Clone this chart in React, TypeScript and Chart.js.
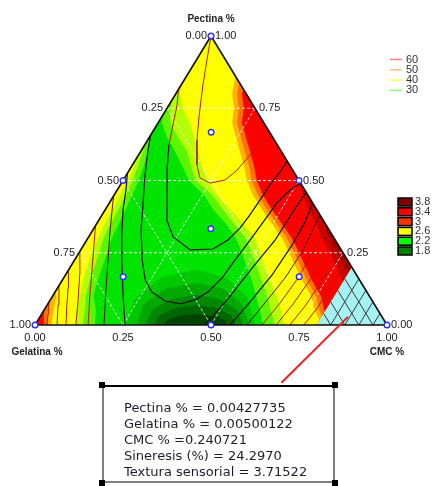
import React, { useEffect, useRef } from 'react';
import { Chart, registerables } from 'chart.js';
Chart.register(...registerables);

// ---------- data (ternary points are [Pectina, CMC]; Gelatina = 1 - P - C) ----------
const tickValues = [0, 0.25, 0.5, 0.75, 1];
const tickLabels = ['0.00', '0.25', '0.50', '0.75', '1.00'];
const axisTitles = ['Pectina %', 'Gelatina %', 'CMC %'];

const sineresisLegend = ['60', '50', '40', '30'];
const texturaLegend = ['3.8', '3.4', '3', '2.6', '2.2', '1.8'];

const readout = [
  'Pectina % = 0.00427735',
  'Gelatina % = 0.00500122',
  'CMC % =0.240721',
  'Sineresis (%) = 24.2970',
  'Textura sensorial = 3.71522',
];

const designPoints = [
  [1, 0], [0, 0], [0, 1], [0, 0.5], [0.5, 0], [0.5, 0.5],
  [0.667, 0.167], [0.167, 0.167], [0.167, 0.667], [0.333, 0.333],
];

const simplex = [[1, 0], [0, 0], [0, 1]];
const outOfRange = [[0, 0.8], [0, 1], [0.2, 0.8]];
const hatchC = [0.84, 0.88, 0.92, 0.96];
const hatchG = [0.04, 0.08, 0.12, 0.16];
const pointerLine = [[0.028, 0.875], [-0.2, 0.8]];

// Textura sensorial – filled bands (low side, around the minimum)
const texBelow20 = [[0, 0.259], [0.095, 0.238], [0.165, 0.276], [0.19, 0.362], [0.165, 0.459], [0.095, 0.555], [0, 0.625]];
const texBelow19 = [[0, 0.287], [0.073, 0.273], [0.126, 0.309], [0.145, 0.385], [0.126, 0.47], [0.073, 0.551], [0, 0.608]];
const texBelow18 = [[0, 0.313], [0.052, 0.306], [0.09, 0.34], [0.104, 0.405], [0.09, 0.479], [0.052, 0.547], [0, 0.591]];
const texBelow17 = [[0, 0.338], [0.035, 0.337], [0.06, 0.368], [0.069, 0.423], [0.06, 0.484], [0.035, 0.538], [0, 0.571]];
const texBelow16 = [[0, 0.364], [0.019, 0.367], [0.033, 0.394], [0.038, 0.438], [0.033, 0.486], [0.019, 0.527], [0, 0.548]];

// Textura sensorial – high side along the Gelatina edge
const texLeft24 = [[0, 0], [0, 0.17], [0.05, 0.148], [0.1, 0.116], [0.15, 0.102], [0.2, 0.091], [0.25, 0.08], [0.3, 0.068], [0.35, 0.063], [0.4, 0.057], [0.45, 0.051], [0.5, 0.045], [0.55, 0.034], [0.6, 0.02], [0.63, 0.01], [0.66, 0]];
const texLeft25 = [[0, 0], [0, 0.136], [0.05, 0.116], [0.1, 0.094], [0.15, 0.08], [0.2, 0.068], [0.25, 0.057], [0.3, 0.045], [0.35, 0.04], [0.4, 0.037], [0.45, 0.034], [0.5, 0.028], [0.55, 0.017], [0.6, 0.006], [0.62, 0]];
const texLeft26 = [[0, 0], [0, 0.114], [0.05, 0.094], [0.1, 0.077], [0.15, 0.06], [0.2, 0.048], [0.25, 0.037], [0.3, 0.028], [0.35, 0.023], [0.4, 0.02], [0.45, 0.017], [0.5, 0.014], [0.55, 0.007], [0.58, 0]];
const texLeft30 = [[0, 0], [0, 0.046], [0.05, 0.028], [0.1, 0.011], [0.12, 0]];
const texLeft32 = [[0, 0], [0, 0.036], [0.04, 0.016], [0.08, 0]];
const texLeft34 = [[0, 0], [0, 0.025], [0.03, 0.01], [0.05, 0]];

// Textura sensorial – high side (upper and CMC/Pectina edge)
const texRight24 = [[0.72, 0], [0.7, 0.011], [0.65, 0.05], [0.6, 0.098], [0.55, 0.143], [0.5, 0.188], [0.45, 0.255], [0.4, 0.306], [0.35, 0.368], [0.3, 0.421], [0.25, 0.463], [0.2, 0.502], [0.15, 0.542], [0.1, 0.578], [0.05, 0.614], [0, 0.648], [0, 1], [1, 0]];
const texRight25 = [[0.78, 0], [0.75, 0.009], [0.7, 0.034], [0.65, 0.081], [0.6, 0.132], [0.55, 0.168], [0.5, 0.207], [0.45, 0.278], [0.4, 0.334], [0.35, 0.39], [0.3, 0.449], [0.25, 0.491], [0.2, 0.531], [0.15, 0.57], [0.1, 0.609], [0.05, 0.645], [0, 0.682], [0, 1], [1, 0]];
const texRight26 = [[0.83, 0], [0.8, 0.012], [0.75, 0.045], [0.7, 0.09], [0.65, 0.127], [0.6, 0.163], [0.55, 0.199], [0.5, 0.239], [0.45, 0.292], [0.4, 0.354], [0.35, 0.416], [0.3, 0.475], [0.25, 0.514], [0.2, 0.553], [0.15, 0.593], [0.1, 0.637], [0.05, 0.674], [0, 0.71], [0, 1], [1, 0]];
const texRight30 = [[0.865, 0.135], [0.85, 0.143], [0.8, 0.16], [0.75, 0.19], [0.7, 0.21], [0.65, 0.246], [0.6, 0.282], [0.55, 0.319], [0.5, 0.352], [0.45, 0.394], [0.4, 0.445], [0.35, 0.498], [0.3, 0.552], [0.25, 0.597], [0.2, 0.641], [0.15, 0.686], [0.1, 0.734], [0.05, 0.77], [0.02, 0.797], [0, 0.8], [0, 1]];
const texRight32 = [[0.84, 0.16], [0.8, 0.174], [0.75, 0.204], [0.7, 0.224], [0.65, 0.26], [0.6, 0.296], [0.55, 0.333], [0.5, 0.366], [0.45, 0.408], [0.4, 0.459], [0.35, 0.512], [0.3, 0.566], [0.25, 0.611], [0.2, 0.655], [0.15, 0.7], [0.1, 0.748], [0.05, 0.783], [0.03, 0.8], [0, 1]];
const texRight34 = [[0.815, 0.185], [0.8, 0.188], [0.75, 0.218], [0.7, 0.238], [0.65, 0.274], [0.6, 0.311], [0.55, 0.347], [0.5, 0.38], [0.45, 0.422], [0.4, 0.473], [0.35, 0.526], [0.3, 0.58], [0.25, 0.625], [0.2, 0.669], [0.15, 0.714], [0.1, 0.762], [0.05, 0.797], [0.045, 0.8], [0, 1]];
const texRight38 = [[0.52, 0.48], [0.5, 0.494], [0.45, 0.536], [0.4, 0.578], [0.35, 0.623], [0.3, 0.665], [0.25, 0.713], [0.2, 0.758], [0.15, 0.8], [0, 1]];
const texRight40 = [[0.36, 0.64], [0.3, 0.685], [0.25, 0.732], [0.2, 0.778], [0.18, 0.8], [0, 1]];

// Sinéresis – contour lines
const sinL1 = [[0, 0.034], [0.038, 0.018], [0.078, 0]];
const sinL2 = [[0, 0.0625], [0.069, 0.031], [0.136, 0]];
const sinL3 = [[0, 0.088], [0.069, 0.056], [0.128, 0.03], [0.19, 0]];
const sinL4 = [[0, 0.116], [0.087, 0.079], [0.183, 0.036], [0.255, 0]];
const sinL5 = [[0, 0.151], [0.104, 0.104], [0.19, 0.067], [0.277, 0.029], [0.344, 0]];
const sinL6 = [[0, 0.196], [0.121, 0.141], [0.225, 0.095], [0.329, 0.049], [0.398, 0.02], [0.447, 0]];
const sinL7 = [[0, 0.256], [0.104, 0.198], [0.208, 0.143], [0.311, 0.091], [0.398, 0.051], [0.467, 0.025], [0.525, 0]];
const sinU1 = [[0.657, 0], [0.606, 0.018], [0.519, 0.053], [0.433, 0.091], [0.329, 0.137], [0.225, 0.192], [0.156, 0.235], [0.114, 0.275], [0.083, 0.328], [0.073, 0.376], [0.087, 0.411], [0.114, 0.434], [0.163, 0.45], [0.225, 0.456], [0.294, 0.464], [0.374, 0.472], [0.422, 0.476], [0.467, 0.491], [0.491, 0.509]];
const sinU2a = [[0.815, 0], [0.761, 0.023], [0.692, 0.046], [0.623, 0.069]];
const sinU2b = [[0.623, 0.069], [0.536, 0.107], [0.433, 0.159], [0.363, 0.193], [0.305, 0.24], [0.26, 0.311], [0.263, 0.374], [0.294, 0.401], [0.336, 0.415], [0.381, 0.42], [0.433, 0.423], [0.484, 0.425], [0.529, 0.431], [0.567, 0.433]];
const sinU3 = [[1, 0], [0.917, 0.03], [0.83, 0.062], [0.727, 0.103], [0.64, 0.14], [0.554, 0.183], [0.509, 0.214], [0.491, 0.252], [0.502, 0.289], [0.536, 0.306], [0.588, 0.317], [0.63, 0.33], [0.654, 0.346]];
const sinR1 = [[0, 0.483], [0.087, 0.502], [0.201, 0.519], [0.294, 0.535], [0.391, 0.537], [0.46, 0.54]];
const sinR2 = [[0, 0.554], [0.08, 0.571], [0.173, 0.587], [0.277, 0.592], [0.356, 0.589], [0.422, 0.578]];
const sinR3 = [[0, 0.602], [0.076, 0.615], [0.163, 0.629], [0.26, 0.632], [0.381, 0.619]];
const sinR4 = [[0, 0.645], [0.076, 0.658], [0.163, 0.666], [0.26, 0.663], [0.343, 0.657]];
const sinR5 = [[0, 0.685], [0.073, 0.697], [0.156, 0.703], [0.304, 0.696]];
const sinR6 = [[0, 0.724], [0.069, 0.735], [0.156, 0.738], [0.263, 0.737]];
const sinR7 = [[0, 0.764], [0.062, 0.773], [0.149, 0.772], [0.228, 0.772]];

// ---------- styles ----------
const C = {
  g16: '#004400', g17: '#006600', g18: '#008800', g19: '#00a800', g20: '#00c800', g22: '#00e400',
  g24: '#5cf500', g25: '#b4ff00', y26: '#ffff00', o30: '#ffb000', o32: '#ff7000', r34: '#ff0000',
  r38: '#c80000', r40: '#a00000', hatch: '#a6f2f2',
  lineRed: '#b41e00', lineBrown: '#5a1500', lineBlack: '#101010',
};
const sinLegendColors = ['#ff8080', '#ffc080', '#ffff40', '#80ff80'];
const texLegendColors = ['#800000', '#ff0000', '#ff3300', '#ffff00', '#00ff00', '#008000'];

const toXY = (pt: number[]) => ({ x: pt[1] + pt[0] / 2, y: pt[0] });

const labelPlugin = {
  id: 'ternaryLabels',
  afterDraw(chart: any) {
    const { ctx } = chart;
    const xs = chart.scales.x;
    const ys = chart.scales.y;
    const px = (p: number, c: number) => [xs.getPixelForValue(c + p / 2), ys.getPixelForValue(p)];
    ctx.save();
    ctx.fillStyle = '#222';
    ctx.font = '11px "Liberation Sans", Arial, sans-serif';
    tickValues.forEach((v, i) => {
      let [a, b] = px(1 - v, 0);
      ctx.textAlign = 'right';
      ctx.textBaseline = 'middle';
      ctx.fillText(tickLabels[i], a - 4, b);
      [a, b] = px(v, 1 - v);
      ctx.textAlign = 'left';
      ctx.fillText(tickLabels[i], a + 4, b);
      [a, b] = px(0, v);
      ctx.textAlign = 'center';
      ctx.textBaseline = 'top';
      ctx.fillText(tickLabels[i], a, b + 7);
    });
    ctx.font = 'bold 10px "Liberation Sans", Arial, sans-serif';
    ctx.textAlign = 'center';
    ctx.textBaseline = 'middle';
    let [a, b] = px(1, 0);
    ctx.fillText(axisTitles[0], a, b - 17);
    [a, b] = px(0, 0);
    ctx.fillText(axisTitles[1], a + 2, b + 27);
    [a, b] = px(0, 1);
    ctx.fillText(axisTitles[2], a, b + 27);

    // line legend (Sinéresis)
    ctx.font = '11px "Liberation Sans", Arial, sans-serif';
    ctx.textAlign = 'left';
    sineresisLegend.forEach((lab, i) => {
      const yy = 59.5 + i * 10.3;
      ctx.strokeStyle = sinLegendColors[i];
      ctx.lineWidth = 1.5;
      ctx.beginPath();
      ctx.moveTo(390, yy);
      ctx.lineTo(402, yy);
      ctx.stroke();
      ctx.fillStyle = '#333';
      ctx.fillText(lab, 406, yy);
    });
    // fill legend (Textura)
    texturaLegend.forEach((lab, i) => {
      const yy = 202 + i * 9.8;
      ctx.fillStyle = texLegendColors[i];
      ctx.fillRect(398, yy - 4, 14, 8);
      ctx.strokeStyle = '#000';
      ctx.lineWidth = 1.5;
      ctx.strokeRect(398, yy - 4, 14, 8);
      ctx.fillStyle = '#333';
      ctx.fillText(lab, 415, yy);
    });
    ctx.restore();
  },
};

export default function App() {
  const ref = useRef<HTMLCanvasElement>(null);
  useEffect(() => {
    const datasets: any[] = [];
    const poly = (pts: number[][], color: string, extra: any = {}) =>
      datasets.push({ data: pts.map(toXY), showLine: true, fill: 'shape', backgroundColor: color, borderColor: 'transparent', borderWidth: 0, pointRadius: 0, ...extra });
    const line = (pts: number[][], color: string, width: number, extra: any = {}) =>
      datasets.push({ data: pts.map(toXY), showLine: true, fill: false, borderColor: color, borderWidth: width, pointRadius: 0, ...extra });

    poly(simplex, C.g22);
    poly(texBelow20, C.g20);
    poly(texBelow19, C.g19);
    poly(texBelow18, C.g18);
    poly(texBelow17, C.g17);
    poly(texBelow16, C.g16);
    poly(texLeft24, C.g24);
    poly(texLeft25, C.g25);
    poly(texLeft26, C.y26);
    poly(texLeft30, C.o30);
    poly(texLeft32, C.o32);
    poly(texLeft34, C.r34);
    poly(texRight24, C.g24);
    poly(texRight25, C.g25);
    poly(texRight26, C.y26);
    poly(texRight30, C.o30);
    poly(texRight32, C.o32);
    poly(texRight34, C.r34);
    poly(texRight38, C.r38);
    poly(texRight40, C.r40);
    poly(outOfRange, C.hatch, { borderColor: '#7a7a10', borderWidth: 1 });
    hatchC.forEach((c) => line([[0, c], [1 - c, c]], '#3a3a3a', 1));
    hatchG.forEach((g) => line([[0.2 - g, 0.8], [0, 1 - g]], '#3a3a3a', 1));

    // white dashed grid
    [0.25, 0.5, 0.75].forEach((v) => {
      const st = { borderDash: [3, 2] };
      line([[v, 0], [v, 1 - v]], 'rgba(255,255,255,0.85)', 1, st);
      line([[1 - v, 0], [0, 1 - v]], 'rgba(255,255,255,0.85)', 1, st);
      line([[0, v], [1 - v, v]], 'rgba(255,255,255,0.85)', 1, st);
    });

    // Sinéresis contours
    [sinL1, sinL2, sinL3, sinL4, sinL5].forEach((l) => line(l, C.lineRed, 1));
    line(sinL6, C.lineBrown, 1);
    line(sinL7, C.lineBlack, 1.2);
    line(sinU1, C.lineBlack, 1.2);
    line(sinU2a, C.lineRed, 1);
    line(sinU2b, C.lineBlack, 1.2);
    line(sinU3, C.lineRed, 1);
    line(sinR1, C.lineBlack, 1.2);
    line(sinR2, C.lineBlack, 1.2);
    line(sinR3, C.lineBrown, 1);
    [sinR4, sinR5, sinR6, sinR7].forEach((l) => line(l, C.lineRed, 1));

    // triangle outline
    line([...simplex, simplex[0]], '#111', 1.6, { clip: false });
    // pointer to readout box
    line(pointerLine, '#ee1c1c', 2, { clip: false });
    // design points
    datasets.push({
      data: designPoints.map(toXY), showLine: false, pointRadius: 2.8, pointBorderWidth: 1.4,
      pointBorderColor: '#3030ff', pointBackgroundColor: '#ffffff', clip: false,
    });

    datasets.forEach((d, i) => { d.order = datasets.length - i; });

    const chart = new Chart(ref.current as HTMLCanvasElement, {
      type: 'scatter',
      data: { datasets },
      options: {
        responsive: false,
        animation: false,
        events: [],
        layout: { padding: { left: 35, right: 46, top: 36, bottom: 161 } },
        scales: {
          x: { type: 'linear', min: 0, max: 1, display: false },
          y: { type: 'linear', min: 0, max: 1, display: false },
        },
        plugins: { legend: { display: false }, tooltip: { enabled: false } },
        elements: { line: { tension: 0 } },
      } as any,
      plugins: [labelPlugin],
    });
    return () => chart.destroy();
  }, []);

  const corner = (l: number, t: number) => (
    <div style={{ position: 'absolute', left: l - 3, top: t - 3, width: 6, height: 6, background: '#000' }} />
  );

  return (
    <div style={{ position: 'fixed', left: 0, top: 0, width: 433, height: 486, background: '#fff', overflow: 'hidden' }}>
      <canvas ref={ref} width={433} height={486} style={{ position: 'absolute', left: 0, top: 0 }} />
      <div
        style={{
          position: 'absolute', left: 102, top: 385, width: 233, height: 98, boxSizing: 'border-box',
          borderTop: '2px solid #000', borderLeft: '2px solid #808080', borderRight: '2px solid #808080',
          borderBottom: '2px solid #808080', paddingTop: 13, paddingLeft: 20,
          fontFamily: '"DejaVu Sans", Verdana, sans-serif', fontSize: 13, lineHeight: '16px', color: '#1c1c30',
          whiteSpace: 'nowrap',
        }}
      >
        {readout.map((t) => (
          <div key={t}>{t}</div>
        ))}
      </div>
      {corner(102, 385)}
      {corner(335, 385)}
      {corner(102, 483)}
      {corner(335, 483)}
    </div>
  );
}
